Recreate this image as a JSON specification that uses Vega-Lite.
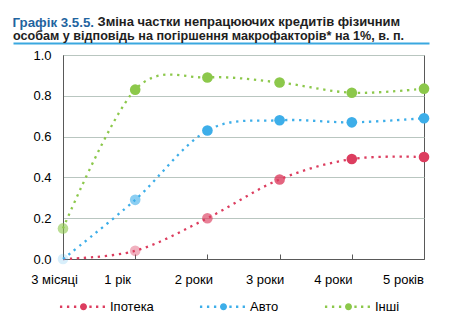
{
  "$schema": "https://vega.github.io/schema/vega-lite/v6.json",
  "background": "white",
  "padding": {"left": 12, "top": 15, "right": 21, "bottom": 5},
  "config": {
    "font": "Liberation Sans",
    "view": {"stroke": "#595959", "strokeWidth": 1}
  },
  "title": {
    "text": "Графік 3.5.5.",
    "color": "#1f64a0",
    "fontSize": 13.3,
    "fontWeight": "bold",
    "anchor": "start",
    "frame": "bounds",
    "offset": -13
  },
  "datasets": {
    "d": [
      {"period": "3 місяці", "series": "Іпотека", "value": 0.0},
      {"period": "1 рік", "series": "Іпотека", "value": 0.04},
      {"period": "2 роки", "series": "Іпотека", "value": 0.2},
      {"period": "3 роки", "series": "Іпотека", "value": 0.39},
      {"period": "4 роки", "series": "Іпотека", "value": 0.49},
      {"period": "5 років", "series": "Іпотека", "value": 0.5},
      {"period": "3 місяці", "series": "Авто", "value": 0.0},
      {"period": "1 рік", "series": "Авто", "value": 0.29},
      {"period": "2 роки", "series": "Авто", "value": 0.63},
      {"period": "3 роки", "series": "Авто", "value": 0.68},
      {"period": "4 роки", "series": "Авто", "value": 0.67},
      {"period": "5 років", "series": "Авто", "value": 0.69},
      {"period": "3 місяці", "series": "Інші", "value": 0.15},
      {"period": "1 рік", "series": "Інші", "value": 0.83},
      {"period": "2 роки", "series": "Інші", "value": 0.89},
      {"period": "3 роки", "series": "Інші", "value": 0.865},
      {"period": "4 роки", "series": "Інші", "value": 0.815},
      {"period": "5 років", "series": "Інші", "value": 0.835}
    ],
    "u": [{"u": 0}, {"u": 1}]
  },
  "vconcat": [
    {
      "title": {
        "text": "Зміна частки непрацюючих кредитів фізичним",
        "color": "#1e1e1e",
        "fontSize": 13,
        "fontWeight": "bold",
        "anchor": "start",
        "frame": "bounds",
        "dx": 85,
        "offset": 1
      },
      "vconcat": [
        {
          "width": 361,
          "height": 204,
          "title": {
            "text": "особам у відповідь на погіршення макрофакторів* на 1%, в. п.",
            "color": "#1e1e1e",
            "fontSize": 12.6,
            "fontWeight": "bold",
            "anchor": "start",
            "frame": "bounds",
            "offset": 0
          },
          "resolve": {"scale": {"x": "independent"}, "axis": {"x": "independent"}},
          "layer": [
            {
              "data": {"name": "d"},
              "encoding": {
                "x": {
                  "field": "period",
                  "type": "ordinal",
                  "sort": ["3 місяці", "1 рік", "2 роки", "3 роки", "4 роки", "5 років"],
                  "scale": {"type": "point", "padding": 0},
                  "axis": {
                    "title": null,
                    "labelAngle": 0,
                    "labelFontSize": 13,
                    "labelColor": "#000000",
                    "domainColor": "#595959",
                    "tickColor": "#595959",
                    "tickSize": -5,
                    "labelPadding": 19,
                    "grid": false,
                    "labelOffset": {
                      "condition": [
                        {"test": "datum.value === '3 місяці'", "value": -9},
                        {"test": "datum.value === '1 рік'", "value": -18},
                        {"test": "datum.value === '2 роки'", "value": -14},
                        {"test": "datum.value === '3 роки'", "value": -15},
                        {"test": "datum.value === '4 роки'", "value": -19}
                      ],
                      "value": -21
                    }
                  }
                },
                "y": {
                  "field": "value",
                  "type": "quantitative",
                  "scale": {"domain": [0, 1], "nice": false},
                  "axis": {
                    "title": null,
                    "values": [0, 0.2, 0.4, 0.6, 0.8, 1.0],
                    "format": ".1f",
                    "labelFontSize": 13,
                    "labelColor": "#000000",
                    "ticks": false,
                    "labelPadding": 12,
                    "domainColor": "#595959",
                    "gridColor": "#b9c6c0",
                    "gridWidth": 1
                  }
                }
              },
              "layer": [
                {
                  "mark": {"type": "line", "interpolate": "cardinal", "strokeDash": [2.3, 4.7], "strokeWidth": 2.3},
                  "encoding": {
                    "stroke": {
                      "field": "series",
                      "type": "nominal",
                      "scale": {"domain": ["Інші", "Авто", "Іпотека"], "range": ["#8cc84b", "#3daee9", "#dc3d5f"]},
                      "legend": null
                    }
                  }
                },
                {
                  "mark": {"type": "point", "filled": true, "size": 113},
                  "encoding": {
                    "opacity": {
                      "condition": [
                        {"test": "datum.series === 'Іпотека' && datum.period === '3 місяці'", "value": 0},
                        {"test": "datum.series === 'Авто' && datum.period === '3 місяці'", "value": 0.2},
                        {"test": "datum.period === '3 місяці'", "value": 0.6},
                        {"test": "datum.series === 'Іпотека' && datum.period === '1 рік'", "value": 0.4},
                        {"test": "datum.series === 'Авто' && datum.period === '1 рік'", "value": 0.6},
                        {"test": "datum.series === 'Іпотека' && datum.period === '2 роки'", "value": 0.65},
                        {"test": "datum.series === 'Іпотека' && datum.period === '3 роки'", "value": 0.8}
                      ],
                      "value": 1
                    },
                    "color": {
                      "field": "series",
                      "type": "nominal",
                      "scale": {"domain": ["Іпотека", "Авто", "Інші"], "range": ["#dc3d5f", "#3daee9", "#8cc84b"]},
                      "legend": {
                        "title": null,
                        "orient": "none",
                        "legendX": 14,
                        "legendY": 245,
                        "direction": "horizontal",
                        "symbolType": "M-1,0a1,1 0 1,0 2,0a1,1 0 1,0 -2,0ZM-6.73,-0.33h0.66v0.66h-0.66ZM-4.73,-0.33h0.66v0.66h-0.66ZM-2.73,-0.33h0.66v0.66h-0.66ZM1.67,-0.33h0.66v0.66h-0.66ZM3.57,-0.33h0.66v0.66h-0.66ZM5.47,-0.33h0.66v0.66h-0.66Z",
                        "symbolSize": 49,
                        "symbolStrokeWidth": 0,
                        "symbolOpacity": 1,
                        "labelFontSize": 13,
                        "labelColor": "#000000",
                        "labelOffset": 20,
                        "columnPadding": 45
                      }
                    }
                  }
                }
              ]
            },
            {
              "data": {"name": "u"},
              "mark": {"type": "point", "opacity": 0, "size": 0, "strokeWidth": 0},
              "encoding": {
                "x": {
                  "field": "u",
                  "type": "quantitative",
                  "scale": {"domain": [0, 1], "range": [-50, 366], "nice": false, "zero": false},
                  "axis": {
                    "orient": "top",
                    "offset": 12,
                    "domainColor": "#3aa8e0",
                    "domainWidth": 2,
                    "ticks": false,
                    "labels": false,
                    "grid": false,
                    "title": null
                  }
                }
              }
            }
          ]
        }
      ]
    }
  ]
}
